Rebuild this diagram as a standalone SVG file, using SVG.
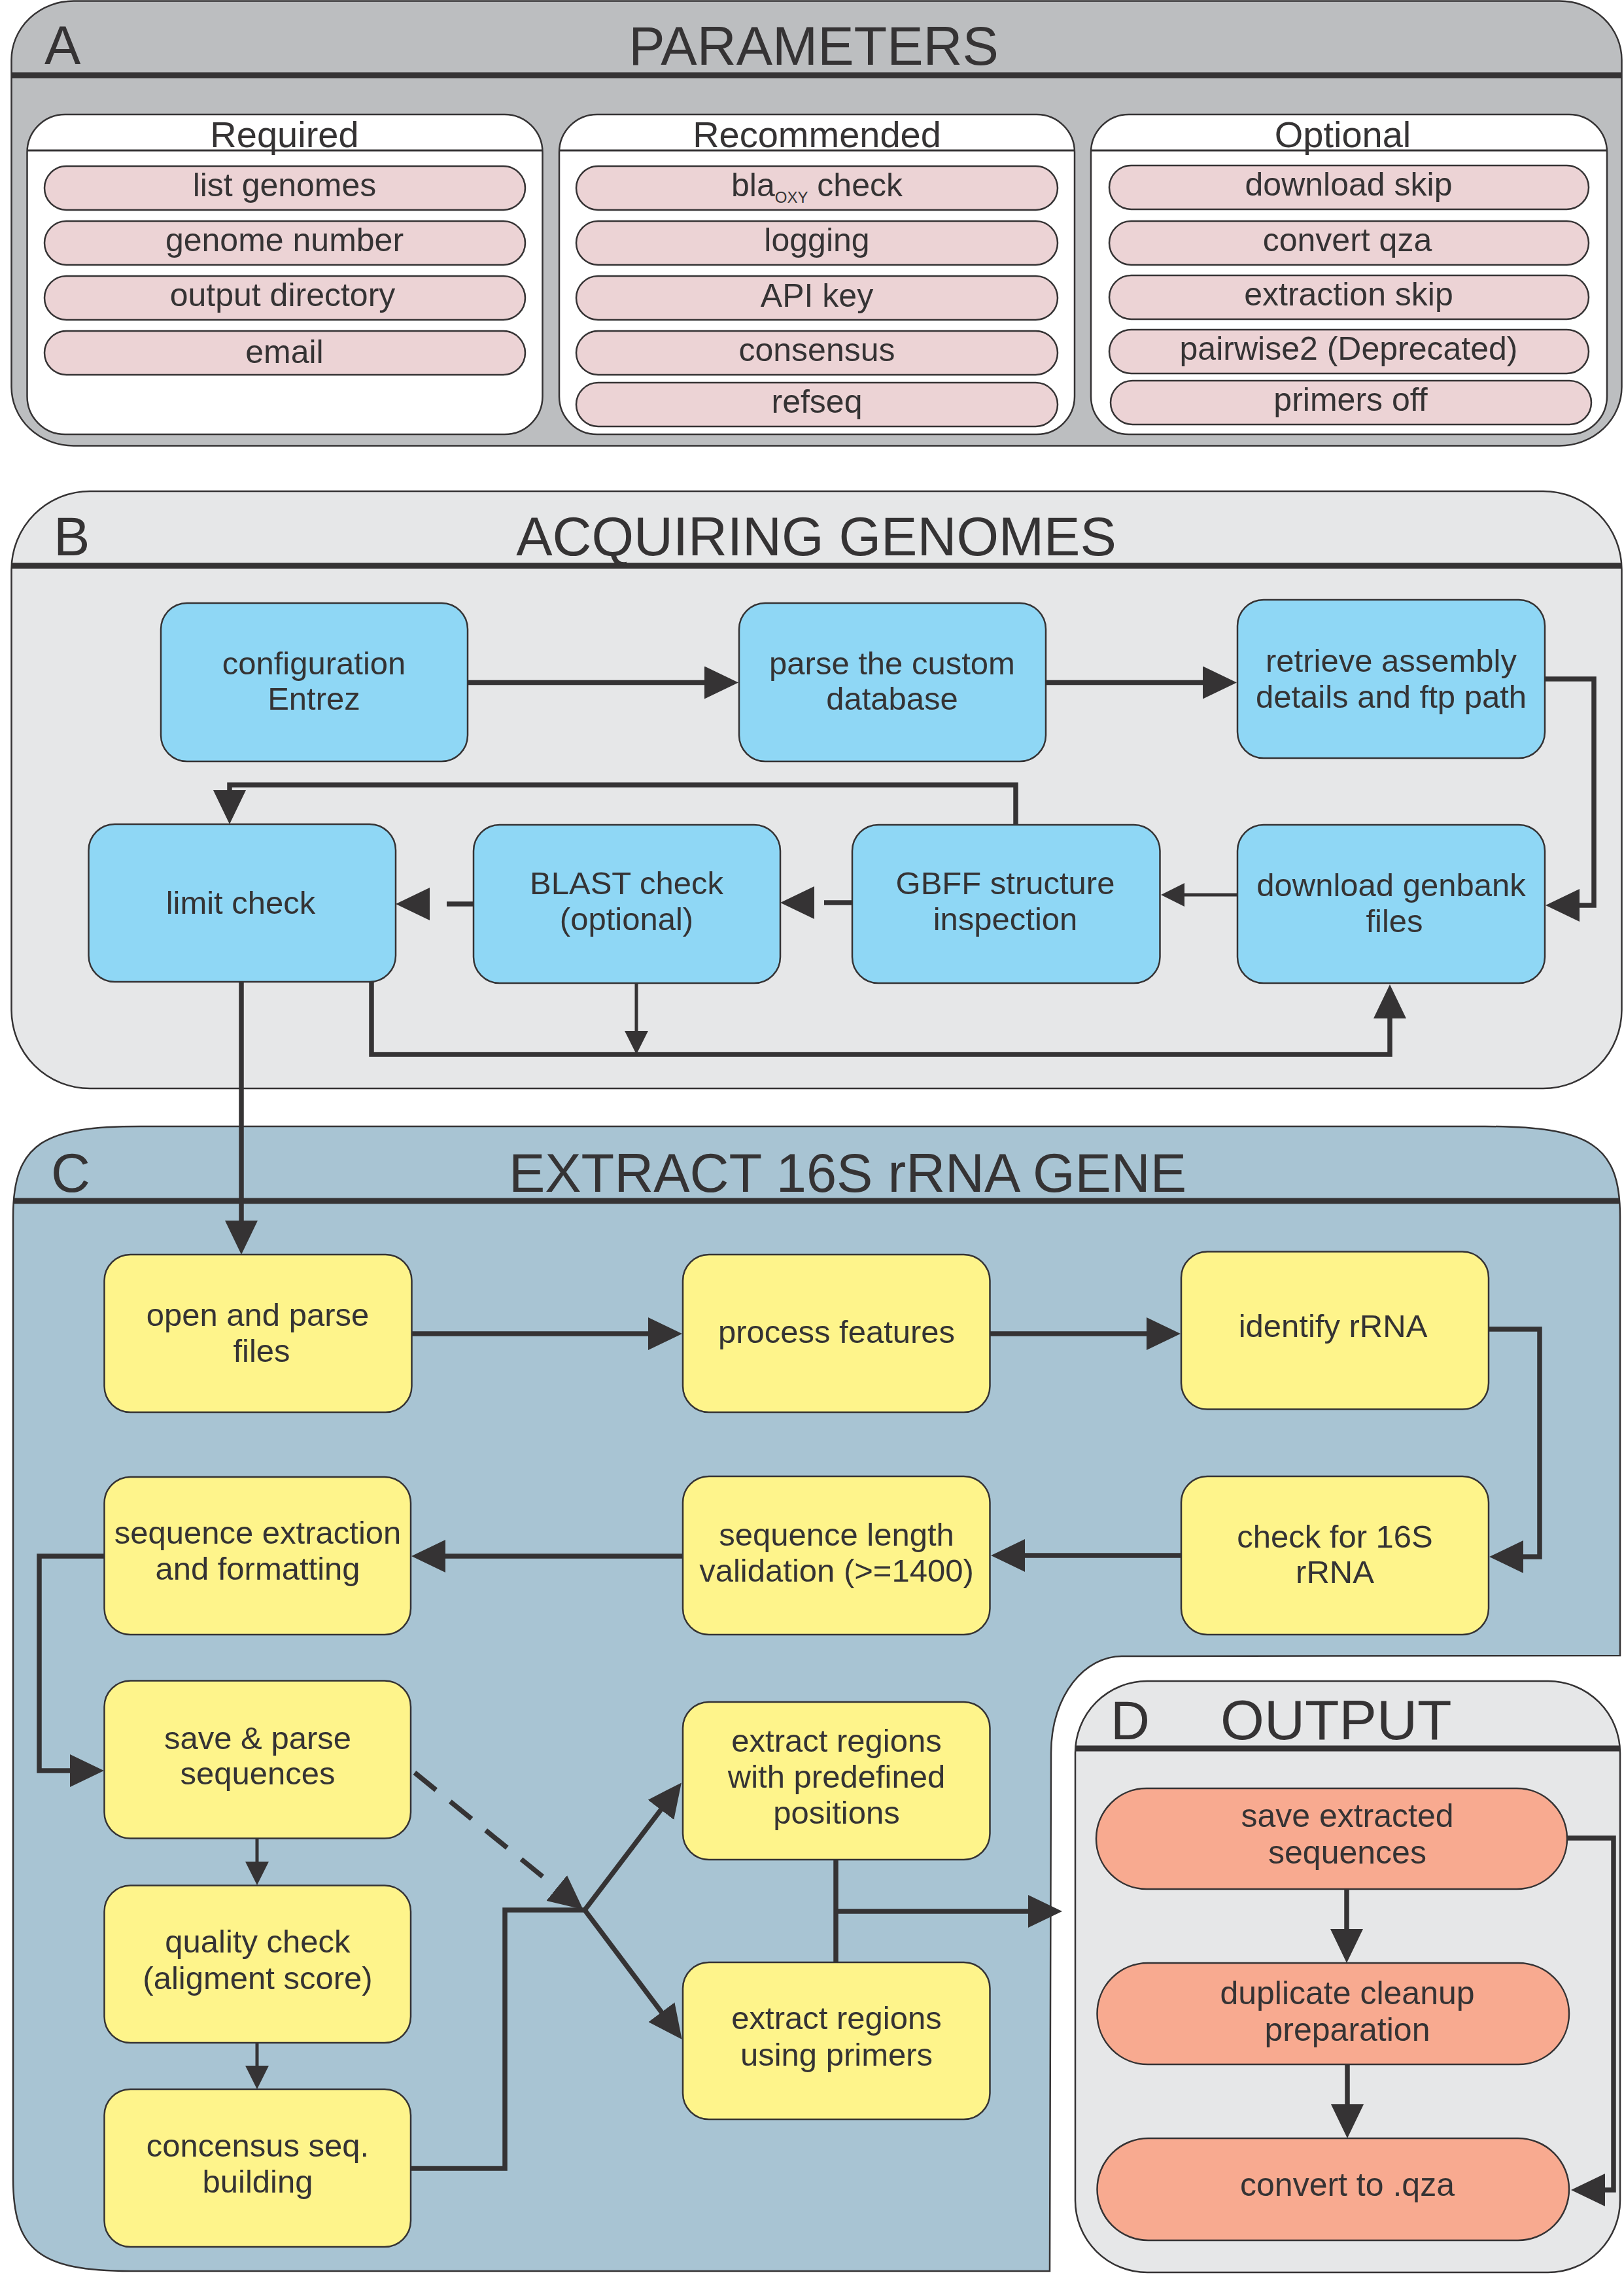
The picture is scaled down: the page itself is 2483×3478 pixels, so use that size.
<svg xmlns="http://www.w3.org/2000/svg" width="2483" height="3478" viewBox="0 0 2483 3478">
<defs>
<style>
text{font-family:"Liberation Sans",Arial,Helvetica,sans-serif;fill:#353334}
.title{font-size:83px}
.sub{font-size:56px;text-anchor:middle}
.pill rect{fill:#ecd3d5;stroke:#353334;stroke-width:2.5}
.pill text{font-size:50px;text-anchor:middle}
.box{stroke:#353334;stroke-width:2.5}
.node text{font-size:49px;text-anchor:middle}
.blue rect{fill:#8fd7f5;stroke:#353334;stroke-width:2.5}
.yellow rect{fill:#fef48b;stroke:#353334;stroke-width:2.5}
.salmon rect{fill:#f8aa90;stroke:#353334;stroke-width:2.5}
.salmon text{font-size:50px}
.hline{stroke:#353334;stroke-width:9}
.sline{stroke:#353334;stroke-width:3}
.conn path{fill:none;stroke:#353334;stroke-width:7.5}
.conn path.thin{stroke-width:5}
.conn path.dash{stroke-dasharray:42 28}
.conn polygon{fill:#353334}
</style>
<marker id="ab" markerUnits="userSpaceOnUse" viewBox="0 0 52 50" markerWidth="52" markerHeight="50" refX="1" refY="25" orient="auto"><path d="M0,0 L52,25 L0,50 z" fill="#353334"/></marker>
<marker id="as" markerUnits="userSpaceOnUse" viewBox="0 0 36 36" markerWidth="36" markerHeight="36" refX="1" refY="18" orient="auto"><path d="M0,0 L36,18 L0,36 z" fill="#353334"/></marker>
</defs>
<rect width="2483" height="3478" fill="#ffffff"/>

<!-- Panel A -->
<g id="panelA">
<rect class="box" x="17.5" y="1.5" width="2462" height="680" rx="95" ry="90" fill="#bcbec0"/>
<line class="hline" x1="18" y1="115" x2="2479" y2="115"/>
<text class="title" x="68" y="98">A</text>
<text class="title" x="1244" y="99" text-anchor="middle">PARAMETERS</text>
<g id="required">
<rect class="box" x="41.5" y="175" width="788" height="489" rx="58" fill="#ffffff"/>
<line class="sline" x1="41.5" y1="230" x2="829.5" y2="230"/>
<text class="sub" x="435" y="225">Required</text>
</g>
<g id="recommended">
<rect class="box" x="855" y="175" width="788" height="489" rx="58" fill="#ffffff"/>
<line class="sline" x1="855" y1="230" x2="1643" y2="230"/>
<text class="sub" x="1249" y="225">Recommended</text>
</g>
<g id="optional">
<rect class="box" x="1668" y="175" width="789" height="489" rx="58" fill="#ffffff"/>
<line class="sline" x1="1668" y1="230" x2="2457" y2="230"/>
<text class="sub" x="2053" y="225">Optional</text>
</g>
<g id="p-list" class="pill"><rect x="68" y="254" width="735" height="67" rx="33.5"/><text x="435" y="300">list genomes</text></g>
<g id="p-gnum" class="pill"><rect x="68" y="338" width="735" height="67" rx="33.5"/><text x="435" y="384">genome number</text></g>
<g id="p-outdir" class="pill"><rect x="68" y="422" width="735" height="67" rx="33.5"/><text x="432" y="468">output directory</text></g>
<g id="p-email" class="pill"><rect x="68" y="506" width="735" height="67" rx="33.5"/><text x="435" y="555">email</text></g>
<g id="p-bla" class="pill"><rect x="881" y="254" width="736" height="67" rx="33.5"/><text x="1249" y="300">bla<tspan font-size="24" dy="10">OXY</tspan><tspan dy="-10"> check</tspan></text></g>
<g id="p-log" class="pill"><rect x="881" y="338" width="736" height="67" rx="33.5"/><text x="1249" y="384">logging</text></g>
<g id="p-api" class="pill"><rect x="881" y="422" width="736" height="67" rx="33.5"/><text x="1249" y="469">API key</text></g>
<g id="p-cons" class="pill"><rect x="881" y="506" width="736" height="67" rx="33.5"/><text x="1249" y="552">consensus</text></g>
<g id="p-ref" class="pill"><rect x="881" y="585" width="736" height="67" rx="33.5"/><text x="1249" y="631">refseq</text></g>
<g id="p-dskip" class="pill"><rect x="1696" y="253" width="733" height="67" rx="33.5"/><text x="2062" y="299">download skip</text></g>
<g id="p-qza" class="pill"><rect x="1696" y="338" width="733" height="67" rx="33.5"/><text x="2060" y="384">convert qza</text></g>
<g id="p-eskip" class="pill"><rect x="1696" y="421" width="733" height="67" rx="33.5"/><text x="2062" y="467">extraction skip</text></g>
<g id="p-pw2" class="pill"><rect x="1696" y="504" width="733" height="67" rx="33.5"/><text x="2062" y="550">pairwise2 (Deprecated)</text></g>
<g id="p-prim" class="pill"><rect x="1698" y="582" width="735" height="67" rx="33.5"/><text x="2065" y="628">primers off</text></g>
</g>

<!-- Panel B -->
<g id="panelB">
<rect class="box" x="17.5" y="751" width="2462" height="913" rx="120" fill="#e6e7e8"/>
<line class="hline" x1="18" y1="865" x2="2479" y2="865"/>
<text class="title" x="82" y="849">B</text>
<text class="title" x="1248" y="849" text-anchor="middle">ACQUIRING GENOMES</text>
</g>

<!-- Panel C -->
<g id="panelC">
<path class="box" fill="#a8c4d3" d="M20,1860 C20,1745 70,1722 215,1722 L2270,1722 C2430,1722 2477,1750 2477,1860 L2477,2531 L1715,2532 C1660,2532 1607,2590 1607,2680 L1605,3472 L200,3472 C60,3472 20,3440 20,3330 Z"/>
<line class="hline" x1="21" y1="1836" x2="2476" y2="1836"/>
<text class="title" x="78" y="1822">C</text>
<text class="title" x="1296" y="1822" text-anchor="middle">EXTRACT 16S rRNA GENE</text>
</g>

<!-- Panel D -->
<g id="panelD">
<rect class="box" x="1644" y="2570" width="833" height="904" rx="110" fill="#e6e7e8"/>
<line class="hline" x1="1645" y1="2673" x2="2476" y2="2673"/>
<text class="title" x="1698" y="2659">D</text>
<text class="title" x="1866" y="2659" style="font-size:86px">OUTPUT</text>
</g>

<!-- B nodes -->
<g id="n-config" class="node blue"><rect x="246" y="922" width="469" height="242" rx="40"/><text x="480" y="1031">configuration<tspan x="480" dy="54">Entrez</tspan></text></g>
<g id="n-parse" class="node blue"><rect x="1130" y="922" width="469" height="242" rx="40"/><text x="1364" y="1031">parse the custom<tspan x="1364" dy="54">database</tspan></text></g>
<g id="n-retrieve" class="node blue"><rect x="1892" y="917" width="470" height="242" rx="40"/><text x="2127" y="1027">retrieve assembly<tspan x="2127" dy="55">details and ftp path</tspan></text></g>
<g id="n-limit" class="node blue"><rect x="135.5" y="1260" width="469.5" height="241" rx="40"/><text x="368" y="1397">limit check</text></g>
<g id="n-blast" class="node blue"><rect x="724" y="1261" width="469" height="242" rx="40"/><text x="958" y="1367">BLAST check<tspan x="958" dy="55">(optional)</tspan></text></g>
<g id="n-gbff" class="node blue"><rect x="1303" y="1261" width="470.5" height="242" rx="40"/><text x="1537" y="1367">GBFF structure<tspan x="1537" dy="55">inspection</tspan></text></g>
<g id="n-download" class="node blue"><rect x="1892" y="1261" width="470" height="242" rx="40"/><text x="2127" y="1370">download genbank<tspan x="2132" dy="55">files</tspan></text></g>

<!-- C nodes -->
<g id="n-open" class="node yellow"><rect x="159.5" y="1918" width="470" height="241" rx="40"/><text x="394" y="2027">open and parse<tspan x="400" dy="55">files</tspan></text></g>
<g id="n-process" class="node yellow"><rect x="1044" y="1918" width="469.5" height="241" rx="40"/><text x="1279" y="2053">process features</text></g>
<g id="n-identify" class="node yellow"><rect x="1806" y="1913.5" width="470" height="241" rx="40"/><text x="2038" y="2044">identify rRNA</text></g>
<g id="n-check16s" class="node yellow"><rect x="1806" y="2257" width="470" height="242" rx="40"/><text x="2041" y="2366">check for 16S<tspan x="2041" dy="54">rRNA</tspan></text></g>
<g id="n-seqlen" class="node yellow"><rect x="1044" y="2257" width="469.5" height="242" rx="40"/><text x="1279" y="2363">sequence length<tspan x="1279" dy="55">validation (&gt;=1400)</tspan></text></g>
<g id="n-seqext" class="node yellow"><rect x="159.5" y="2258" width="468.5" height="241" rx="40"/><text x="394" y="2360">sequence extraction<tspan x="394" dy="55">and formatting</tspan></text></g>
<g id="n-save" class="node yellow"><rect x="159.5" y="2569.5" width="468.5" height="241" rx="40"/><text x="394" y="2674">save &amp; parse<tspan x="394" dy="54">sequences</tspan></text></g>
<g id="n-quality" class="node yellow"><rect x="159.5" y="2882.5" width="468.5" height="240.5" rx="40"/><text x="394" y="2985">quality check<tspan x="394" dy="56">(aligment score)</tspan></text></g>
<g id="n-consensus" class="node yellow"><rect x="159.5" y="3194" width="468.5" height="241" rx="40"/><text x="394" y="3297">concensus seq.<tspan x="394" dy="55">building</tspan></text></g>
<g id="n-predef" class="node yellow"><rect x="1044" y="2602" width="469.5" height="241" rx="40"/><text x="1279" y="2678">extract regions<tspan x="1279" dy="55">with predefined</tspan><tspan x="1279" dy="55">positions</tspan></text></g>
<g id="n-primers" class="node yellow"><rect x="1044" y="3000" width="469.5" height="240" rx="40"/><text x="1279" y="3102">extract regions<tspan x="1279" dy="56">using primers</tspan></text></g>

<!-- D nodes -->
<g id="n-saveext" class="node salmon"><rect x="1676" y="2734" width="720" height="154" rx="77"/><text x="2060" y="2793">save extracted<tspan x="2060" dy="56">sequences</tspan></text></g>
<g id="n-dup" class="node salmon"><rect x="1677.5" y="3001" width="721.5" height="155" rx="77.5"/><text x="2060" y="3064">duplicate cleanup<tspan x="2060" dy="56">preparation</tspan></text></g>
<g id="n-convert" class="node salmon"><rect x="1677.5" y="3269" width="721.5" height="156" rx="78"/><text x="2060" y="3357">convert to .qza</text></g>

<!-- Connectors -->
<g id="connectors" class="conn">
<path d="M715,1043.5 H1078" marker-end="url(#ab)"/>
<path d="M1599,1043.5 H1840" marker-end="url(#ab)"/>
<path d="M2362,1038 H2437 V1384 H2414" marker-end="url(#ab)"/>
<path class="thin" d="M1892,1368 H1810" marker-end="url(#as)"/>
<path d="M1303,1380 H1260"/>
<polygon points="1193,1380 1245,1355 1245,1405"/>
<path d="M724,1382 H683"/>
<polygon points="605,1382 657,1357 657,1407"/>
<path d="M1553,1261 V1200 H351 V1209" marker-end="url(#ab)"/>
<path d="M568,1501 V1612 H2125 V1556" marker-end="url(#ab)"/>
<path class="thin" d="M973,1503 V1577" marker-end="url(#as)"/>
<path d="M369,1501 V1867" marker-end="url(#ab)"/>

<path d="M630,2039 H992" marker-end="url(#ab)"/>
<path d="M1513.5,2039 H1754" marker-end="url(#ab)"/>
<path d="M2276,2032 H2354 V2380 H2328" marker-end="url(#ab)"/>
<path d="M1806,2378 H1566" marker-end="url(#ab)"/>
<path d="M1044,2379 H680" marker-end="url(#ab)"/>
<path d="M159.5,2379 H60 V2707 H108" marker-end="url(#ab)"/>
<path class="thin" d="M393,2810.5 V2847" marker-end="url(#as)"/>
<path class="thin" d="M393,3123 V3159" marker-end="url(#as)"/>
<path class="dash" d="M634,2710 L852,2887" marker-end="url(#ab)"/>
<path d="M628,3315 H772 V2920 H894"/>
<path d="M894,2920 L1011,2766" marker-end="url(#ab)"/>
<path d="M894,2920 L1012,3077" marker-end="url(#ab)"/>
<path d="M1278,2843 V3000"/>
<path d="M1278,2922 H1573" marker-end="url(#ab)"/>

<path d="M2059,2888 V2950" marker-end="url(#ab)"/>
<path d="M2060,3156 V3218" marker-end="url(#ab)"/>
<path d="M2396,2810 H2467 V3348 H2453" marker-end="url(#ab)"/>
</g>
</svg>
